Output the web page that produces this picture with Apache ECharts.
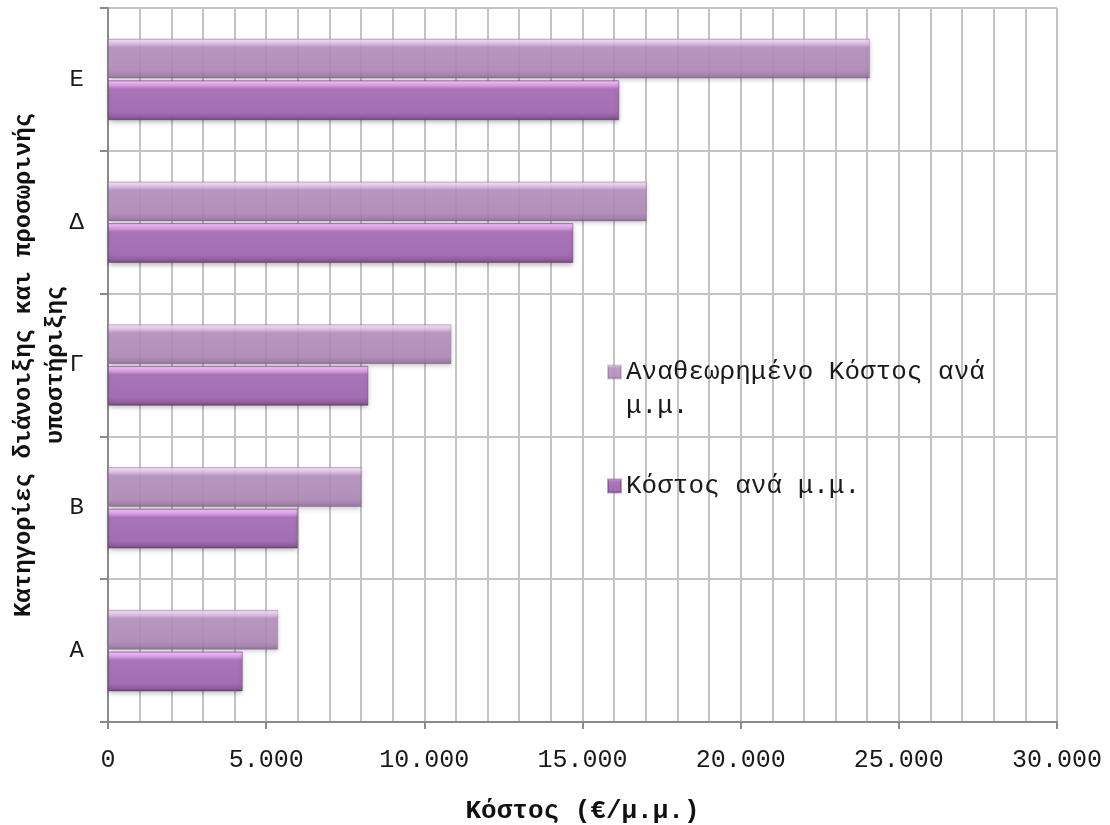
<!DOCTYPE html>
<html>
<head>
<meta charset="utf-8">
<title>Κόστος ανά μ.μ.</title>
<script src="https://cdn.jsdelivr.net/npm/echarts@6/dist/echarts.min.js"></script>
<style>
  html, body { margin: 0; padding: 0; background: #ffffff; }
  #chart { width: 1110px; height: 825px; }
</style>
</head>
<body>
<div id="chart"></div>
<script>
// Categories of excavation and temporary support (bottom to top)
const categories = ['Α', 'Β', 'Γ', 'Δ', 'Ε'];
// Cost per metre (€/μ.μ.)
const costPerMetre = [4260, 6000, 8230, 14710, 16160];
// Revised cost per metre (€/μ.μ.)
const revisedCostPerMetre = [5380, 8020, 10860, 17030, 24090];
const seriesNames = ['Αναθεωρημένο Κόστος ανά μ.μ.', 'Κόστος ανά μ.μ.'];
const axisTitles = {
  x: 'Κόστος (€/μ.μ.)',
  y: 'Κατηγορίες διάνοιξης και προσωρινής\nυποστήριξης'
};

const FONT = '"Liberation Mono", "DejaVu Sans Mono", monospace';

// Bevelled purple fills: bright rim on top, darker edge at the bottom
function bevel(stops) {
  return new echarts.graphic.LinearGradient(0, 0, 0, 1,
    stops.map(([offset, color]) => ({ offset, color })));
}
const revisedFill = bevel([
  [0, '#c9a6d0'], [0.05, '#efd6f2'], [0.14, '#d8b6de'], [0.22, '#b48fbe'],
  [0.8, '#ae88b8'], [0.93, '#9c77a6'], [1, '#7f5f88']
]);
const costFill = bevel([
  [0, '#b98ac4'], [0.05, '#f2b8f8'], [0.14, '#d49ade'], [0.22, '#aa74b8'],
  [0.8, '#a46eb2'], [0.93, '#8d5c9a'], [1, '#6a4474']
]);

const fmtThousands = v => String(v).replace(/\B(?=(\d{3})+(?!\d))/g, '.');

// The long legend entry wraps after "ανά"; a blank first line keeps the
// swatch level with the first line of text.
const wrapLegend = name => name === seriesNames[0]
  ? '\nΑναθεωρημένο Κόστος ανά\nμ.μ.'
  : name;

const legendText = { fontFamily: FONT, fontSize: 26, lineHeight: 34, color: '#1a1a1a' };

const chart = echarts.init(document.getElementById('chart'), null, { renderer: 'canvas' });

chart.setOption({
  backgroundColor: '#ffffff',
  animation: false,
  textStyle: { fontFamily: FONT },
  grid: { left: 108, right: 53, top: 8, bottom: 103, containLabel: false, outerBoundsMode: 'none' },
  legend: [
    {
      data: [seriesNames[0]],
      left: 607, top: 321, padding: 0,
      orient: 'vertical',
      itemWidth: 13, itemHeight: 13,
      icon: 'rect',
      formatter: wrapLegend,
      textStyle: legendText
    },
    {
      data: [seriesNames[1]],
      left: 607, top: 469, padding: 0,
      orient: 'vertical',
      itemWidth: 13, itemHeight: 13,
      icon: 'rect',
      textStyle: legendText
    }
  ],
  xAxis: {
    type: 'value',
    min: 0, max: 30000, interval: 5000,
    name: axisTitles.x,
    nameLocation: 'middle',
    nameGap: 76,
    nameMoveOverlap: false,
    nameTextStyle: { fontFamily: FONT, fontSize: 26, fontWeight: 'bold', color: '#111' },
    axisLine: { show: true, lineStyle: { color: '#8a8a8a', width: 2 } },
    axisTick: { show: true, length: 7, lineStyle: { color: '#8a8a8a', width: 2 } },
    axisLabel: {
      fontFamily: FONT, fontSize: 25, color: '#1a1a1a', margin: 26,
      formatter: v => fmtThousands(v)
    },
    splitLine: { show: true, lineStyle: { color: '#c4c4c4', width: 2 } },
    minorTick: { show: false, splitNumber: 5 },
    minorSplitLine: { show: true, lineStyle: { color: '#c4c4c4', width: 2 } }
  },
  yAxis: {
    type: 'category',
    data: categories,
    boundaryGap: true,
    name: axisTitles.y,
    nameLocation: 'middle',
    nameRotate: 90,
    nameGap: 36,
    nameMoveOverlap: false,
    nameTextStyle: { fontFamily: FONT, fontSize: 24, fontWeight: 'bold', color: '#111', lineHeight: 32 },
    axisLine: { show: true, lineStyle: { color: '#8a8a8a', width: 2 } },
    axisTick: { show: true, length: 8, lineStyle: { color: '#8a8a8a', width: 2 } },
    axisLabel: { fontFamily: FONT, fontSize: 24, color: '#1a1a1a', margin: 24 },
    splitLine: { show: true, lineStyle: { color: '#c4c4c4', width: 2 } }
  },
  series: [
    {
      name: seriesNames[0],
      type: 'bar',
      data: revisedCostPerMetre,
      barWidth: 40,
      barGap: '4%',
      itemStyle: {
        color: revisedFill,
        opacity: 0.88,
        borderColor: 'rgba(120,90,130,0.35)',
        borderWidth: 1,
        shadowBlur: 5, shadowOffsetY: 2, shadowColor: 'rgba(0,0,0,0.25)'
      }
    },
    {
      name: seriesNames[1],
      type: 'bar',
      data: costPerMetre,
      barWidth: 40,
      barGap: '4%',
      itemStyle: {
        color: costFill,
        borderColor: 'rgba(90,50,100,0.45)',
        borderWidth: 1,
        shadowBlur: 5, shadowOffsetY: 2, shadowColor: 'rgba(0,0,0,0.3)'
      }
    }
  ]
});
</script>
</body>
</html>
